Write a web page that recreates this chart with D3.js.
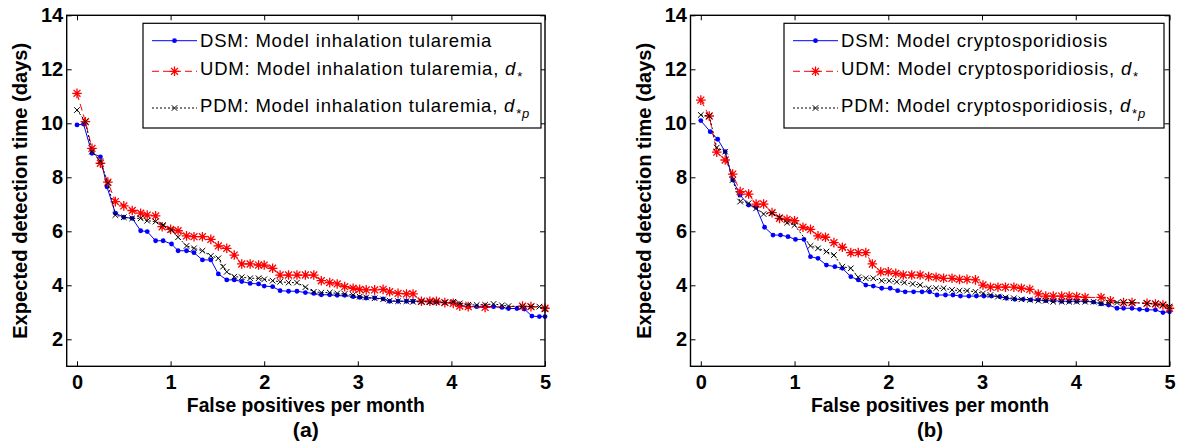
<!DOCTYPE html>
<html>
<head>
<meta charset="utf-8">
<script src="https://cdn.jsdelivr.net/npm/d3@7"></script>
<style>
  html, body { margin: 0; padding: 0; background: #fff; }
  svg { display: block; font-family: Arial, 'Liberation Sans', sans-serif; }
</style>
</head>
<body>
<svg id="chart" width="1182" height="445"></svg>
<script>
// values, [false positives per month, expected detection time]
const tularemiaDSM = [[0,9.94],[0.07,9.97],[0.16,8.89],[0.25,8.76],[0.32,7.65],[0.41,6.67],[0.5,6.52],[0.59,6.48],[0.68,6.02],[0.75,5.99],[0.84,5.65],[0.92,5.65],[1.01,5.53],[1.08,5.28],[1.17,5.28],[1.25,5.21],[1.34,4.94],[1.43,4.94],[1.51,4.42],[1.6,4.2],[1.68,4.2],[1.76,4.14],[1.85,4.07],[1.94,4.05],[2,3.97],[2.09,3.95],[2.17,3.8],[2.26,3.78],[2.35,3.78],[2.44,3.73],[2.53,3.7],[2.61,3.65],[2.7,3.65],[2.78,3.63],[2.86,3.63],[2.95,3.58],[3.02,3.55],[3.09,3.53],[3.18,3.53],[3.27,3.5],[3.34,3.41],[3.43,3.41],[3.52,3.41],[3.59,3.41],[3.68,3.41],[3.77,3.39],[3.84,3.38],[3.93,3.36],[4.02,3.36],[4.09,3.26],[4.18,3.21],[4.27,3.21],[4.36,3.21],[4.45,3.21],[4.54,3.18],[4.61,3.14],[4.7,3.14],[4.78,3.12],[4.86,2.86],[4.94,2.84],[5,2.84]]
const tularemiaUDM = [[0,11.11],[0.09,10.06],[0.16,9.07],[0.25,8.52],[0.33,7.82],[0.41,7.1],[0.5,6.94],[0.59,6.77],[0.68,6.67],[0.75,6.6],[0.84,6.57],[0.91,6.17],[1,6.07],[1.08,6.02],[1.17,5.83],[1.25,5.8],[1.34,5.8],[1.43,5.7],[1.51,5.46],[1.6,5.37],[1.68,5.12],[1.76,4.79],[1.85,4.79],[1.94,4.75],[2,4.75],[2.09,4.63],[2.17,4.38],[2.26,4.38],[2.35,4.38],[2.44,4.38],[2.53,4.38],[2.61,4.17],[2.7,4.1],[2.78,4.05],[2.86,3.95],[2.95,3.89],[3.02,3.85],[3.09,3.83],[3.18,3.83],[3.27,3.85],[3.34,3.76],[3.43,3.7],[3.52,3.68],[3.59,3.68],[3.68,3.41],[3.77,3.41],[3.84,3.41],[3.93,3.36],[4.02,3.33],[4.09,3.23],[4.18,3.21],[4.36,3.18],[4.76,3.23],[4.85,3.21],[5,3.15]]
const tularemiaPDM = [[0,10.49],[0.09,10.06],[0.16,8.95],[0.25,8.6],[0.33,7.78],[0.41,6.6],[0.5,6.52],[0.59,6.48],[0.68,6.48],[0.75,6.39],[0.84,6.36],[0.92,6.23],[1.01,6.05],[1.08,5.78],[1.17,5.46],[1.25,5.37],[1.34,5.28],[1.43,5.09],[1.51,5],[1.56,4.69],[1.6,4.5],[1.68,4.32],[1.76,4.3],[1.85,4.26],[1.94,4.26],[2,4.22],[2.09,4.17],[2.17,4.13],[2.26,4.1],[2.35,4.1],[2.44,3.93],[2.53,3.76],[2.61,3.73],[2.7,3.73],[2.78,3.7],[2.86,3.68],[2.95,3.64],[3.02,3.58],[3.09,3.55],[3.18,3.52],[3.27,3.48],[3.34,3.43],[3.43,3.41],[3.52,3.41],[3.59,3.39],[3.68,3.39],[3.77,3.38],[3.84,3.38],[3.93,3.36],[4.02,3.39],[4.09,3.33],[4.18,3.28],[4.27,3.27],[4.36,3.28],[4.45,3.31],[4.54,3.26],[4.61,3.23],[4.76,3.21],[4.85,3.21],[4.94,3.21],[5,3.11]]

const cryptoDSM = [[0,10.1],[0.1,9.69],[0.18,9.41],[0.26,8.95],[0.34,7.9],[0.42,7.34],[0.51,6.97],[0.59,6.89],[0.68,6.15],[0.77,5.86],[0.85,5.86],[0.93,5.8],[1.01,5.7],[1.1,5.7],[1.17,5.06],[1.25,5],[1.34,4.75],[1.43,4.69],[1.51,4.63],[1.6,4.32],[1.68,4.2],[1.76,4.01],[1.84,3.97],[1.93,3.89],[2.02,3.89],[2.1,3.8],[2.18,3.76],[2.27,3.76],[2.36,3.76],[2.44,3.76],[2.52,3.64],[2.61,3.64],[2.69,3.64],[2.77,3.6],[2.86,3.6],[2.94,3.6],[3.02,3.6],[3.1,3.6],[3.19,3.58],[3.26,3.52],[3.35,3.48],[3.44,3.48],[3.52,3.46],[3.6,3.46],[3.68,3.43],[3.76,3.43],[3.85,3.41],[3.93,3.41],[4.01,3.41],[4.1,3.41],[4.19,3.38],[4.27,3.31],[4.35,3.27],[4.44,3.15],[4.51,3.15],[4.6,3.15],[4.68,3.11],[4.76,3.09],[4.85,3.09],[4.93,2.99],[5,3.02]]
const cryptoUDM = [[0,10.86],[0.09,10.27],[0.17,8.93],[0.26,8.64],[0.34,8.12],[0.42,7.47],[0.51,7.38],[0.59,7.01],[0.67,7.01],[0.76,6.69],[0.84,6.48],[0.92,6.44],[1,6.39],[1.09,6.15],[1.17,6.07],[1.25,5.83],[1.33,5.78],[1.42,5.58],[1.51,5.41],[1.6,5.21],[1.68,5.21],[1.76,5.21],[1.83,4.79],[1.92,4.5],[2,4.5],[2.08,4.44],[2.16,4.38],[2.25,4.38],[2.34,4.38],[2.43,4.32],[2.51,4.3],[2.59,4.26],[2.68,4.26],[2.76,4.22],[2.84,4.22],[2.93,4.2],[3.01,4.01],[3.09,3.93],[3.17,3.93],[3.25,3.93],[3.34,3.93],[3.42,3.89],[3.51,3.85],[3.6,3.68],[3.68,3.6],[3.76,3.6],[3.85,3.6],[3.93,3.6],[4.01,3.58],[4.1,3.55],[4.27,3.55],[4.37,3.43],[4.51,3.36],[4.6,3.36],[4.76,3.33],[4.85,3.31],[4.93,3.27],[5,3.15]]
const cryptoPDM = [[0,10.31],[0.09,10.27],[0.17,9.1],[0.26,8.95],[0.34,7.9],[0.42,7.1],[0.51,7.04],[0.59,6.85],[0.67,6.64],[0.76,6.67],[0.84,6.52],[0.92,6.32],[1,6.23],[1.17,5.46],[1.25,5.37],[1.34,5.25],[1.42,5.12],[1.51,4.69],[1.6,4.63],[1.68,4.3],[1.76,4.26],[1.84,4.26],[1.93,4.17],[2.01,4.17],[2.09,4.13],[2.17,4.1],[2.26,4.05],[2.34,4.01],[2.43,3.89],[2.51,3.89],[2.59,3.89],[2.68,3.83],[2.76,3.8],[2.84,3.8],[2.93,3.76],[3.01,3.7],[3.09,3.64],[3.17,3.58],[3.25,3.55],[3.34,3.52],[3.42,3.48],[3.51,3.46],[3.6,3.43],[3.68,3.43],[3.76,3.39],[3.85,3.39],[3.93,3.39],[4.01,3.39],[4.1,3.39],[4.19,3.39],[4.27,3.33],[4.35,3.36],[4.44,3.36],[4.51,3.36],[4.6,3.36],[4.76,3.33],[4.85,3.31],[4.93,3.27],[5,3.21]]

const xTicks = [0, 1, 2, 3, 4, 5]
const yTicks = [2, 4, 6, 8, 10, 12, 14]
const xDomain = [-0.11, 5]
const yDomain = [1, 14]
const xTitle = 'False positives per month'
const yTitle = 'Expected detection time (days)'

const panels = [
  { tag: '(a)', model: 'inhalation tularemia', series: [tularemiaDSM, tularemiaUDM, tularemiaPDM],
    left: 66.7, right: 545, legendX: 143, legendW: 398 },
  { tag: '(b)', model: 'cryptosporidiosis', series: [cryptoDSM, cryptoUDM, cryptoPDM],
    left: 690.5, right: 1169.5, legendX: 784, legendW: 380 }
]

const styles = [
  { key: 'DSM', color: '#0000ff', dash: null, marker: 'dot' },
  { key: 'UDM', color: '#ff0000', dash: '7,4', marker: 'star' },
  { key: 'PDM', color: '#000000', dash: '2,2', marker: 'cross' }
]

const plotTop = 15.3
const plotBottom = 366.3

function markerPath(kind) {
  if (kind === 'star') {
    const r = 4.8, d = r * 0.72
    return `M${-r},0H${r}M0,${-r}V${r}M${-d},${-d}L${d},${d}M${-d},${d}L${d},${-d}`
  }
  const c = 2.8
  return `M${-c},${-c}L${c},${c}M${-c},${c}L${c},${-c}`
}

function drawMarkers(sel, pts, st) {
  if (st.marker === 'dot') {
    sel.selectAll('circle').data(pts).enter().append('circle')
      .attr('cx', d => d[0]).attr('cy', d => d[1]).attr('r', 2.4)
      .attr('fill', st.color)
  } else {
    sel.selectAll('path.m').data(pts).enter().append('path')
      .attr('class', 'm')
      .attr('transform', d => `translate(${d[0]},${d[1]})`)
      .attr('d', markerPath(st.marker))
      .attr('fill', 'none')
      .attr('stroke', st.color)
      .attr('stroke-width', st.marker === 'star' ? 1.3 : 1)
  }
}

const svg = d3.select('#chart')

function renderPanel(p) {
  const x = d3.scaleLinear().domain(xDomain).range([p.left, p.right])
  const y = d3.scaleLinear().domain(yDomain).range([plotBottom, plotTop])
  const g = svg.append('g')

  // series
  p.series.forEach((data, i) => {
    const st = styles[i]
    const line = d3.line().x(d => x(d[0])).y(d => y(d[1]))
    g.append('path')
      .datum(data)
      .attr('d', line)
      .attr('fill', 'none')
      .attr('stroke', st.color)
      .attr('stroke-width', 1)
      .attr('stroke-dasharray', st.dash)
    const pts = data.map(d => [x(d[0]), y(d[1])])
    drawMarkers(g.append('g'), pts, st)
  })

  // axes, MATLAB style: ticks inward on all four sides
  const fontAxis = sel => sel.attr('font-size', 20).attr('font-weight', 'bold')
    .attr('font-family', "Arial, 'Liberation Sans', sans-serif")
  g.append('g').attr('transform', `translate(0,${plotBottom})`)
    .call(d3.axisBottom(x).tickValues(xTicks).tickFormat(d3.format('d'))
      .tickSize(-5).tickSizeOuter(0).tickPadding(8.5))
    .call(fontAxis)
  g.append('g').attr('transform', `translate(0,${plotTop})`)
    .call(d3.axisTop(x).tickValues(xTicks).tickSize(-5).tickSizeOuter(0).tickFormat(''))
  g.append('g').attr('transform', `translate(${p.left},0)`)
    .call(d3.axisLeft(y).tickValues(yTicks).tickFormat(d3.format('d'))
      .tickSize(-5).tickSizeOuter(0).tickPadding(3.5))
    .call(fontAxis)
  g.append('g').attr('transform', `translate(${p.right},0)`)
    .call(d3.axisRight(y).tickValues(yTicks).tickSize(-5).tickSizeOuter(0).tickFormat(''))
  g.selectAll('.domain').remove()
  g.selectAll('.tick line').attr('stroke', '#000').attr('stroke-width', 1)
  g.selectAll('.tick text').attr('fill', '#000')

  g.append('rect')
    .attr('x', p.left).attr('y', plotTop)
    .attr('width', p.right - p.left).attr('height', plotBottom - plotTop)
    .attr('fill', 'none').attr('stroke', '#000').attr('stroke-width', 1.4)

  // titles
  const cx = (p.left + p.right) / 2
  g.append('text')
    .attr('x', cx).attr('y', 411.5)
    .attr('text-anchor', 'middle')
    .attr('font-weight', 'bold').attr('font-size', 21)
    .attr('textLength', 238).attr('lengthAdjust', 'spacingAndGlyphs')
    .text(xTitle)
  g.append('text')
    .attr('x', cx).attr('y', 437)
    .attr('text-anchor', 'middle')
    .attr('font-weight', 'bold').attr('font-size', 21)
    .attr('textLength', 26).attr('lengthAdjust', 'spacingAndGlyphs')
    .text(p.tag)
  g.append('text')
    .attr('transform', `translate(${p.left - 39.5},${(plotTop + plotBottom) / 2}) rotate(-90)`)
    .attr('text-anchor', 'middle')
    .attr('font-weight', 'bold').attr('font-size', 20)
    .attr('textLength', 296).attr('lengthAdjust', 'spacingAndGlyphs')
    .text(yTitle)

  // legend
  const lg = g.append('g').attr('transform', `translate(${p.legendX},23.3)`)
  lg.append('rect')
    .attr('width', p.legendW).attr('height', 104.7)
    .attr('fill', '#fff').attr('stroke', '#000').attr('stroke-width', 1.2)
  const rowY = [17.4, 48, 84.7]
  const baseY = [23.4, 51.7, 88.4]
  styles.forEach((st, i) => {
    lg.append('line')
      .attr('x1', 9).attr('x2', 54).attr('y1', rowY[i]).attr('y2', rowY[i])
      .attr('stroke', st.color).attr('stroke-width', 1)
      .attr('stroke-dasharray', st.dash)
    drawMarkers(lg.append('g'), [[31.5, rowY[i]]], st)
    const t = lg.append('text')
      .attr('x', 57).attr('y', baseY[i])
      .attr('font-size', 18.5).attr('letter-spacing', 0.8)
      .style('white-space', 'pre')
    if (i === 0) {
      t.text(`${st.key}: Model ${p.model}`)
    } else {
      t.append('tspan').text(`${st.key}: Model ${p.model}, `)
      t.append('tspan').attr('font-style', 'italic').text('d')
      const sub = t.append('tspan').attr('font-size', 13).attr('dy', 6).attr('dx', 1)
      sub.append('tspan').text('*')
      if (i === 2) sub.append('tspan').attr('font-style', 'italic').text('p')
    }
  })
}

panels.forEach(renderPanel)
</script>
</body>
</html>
